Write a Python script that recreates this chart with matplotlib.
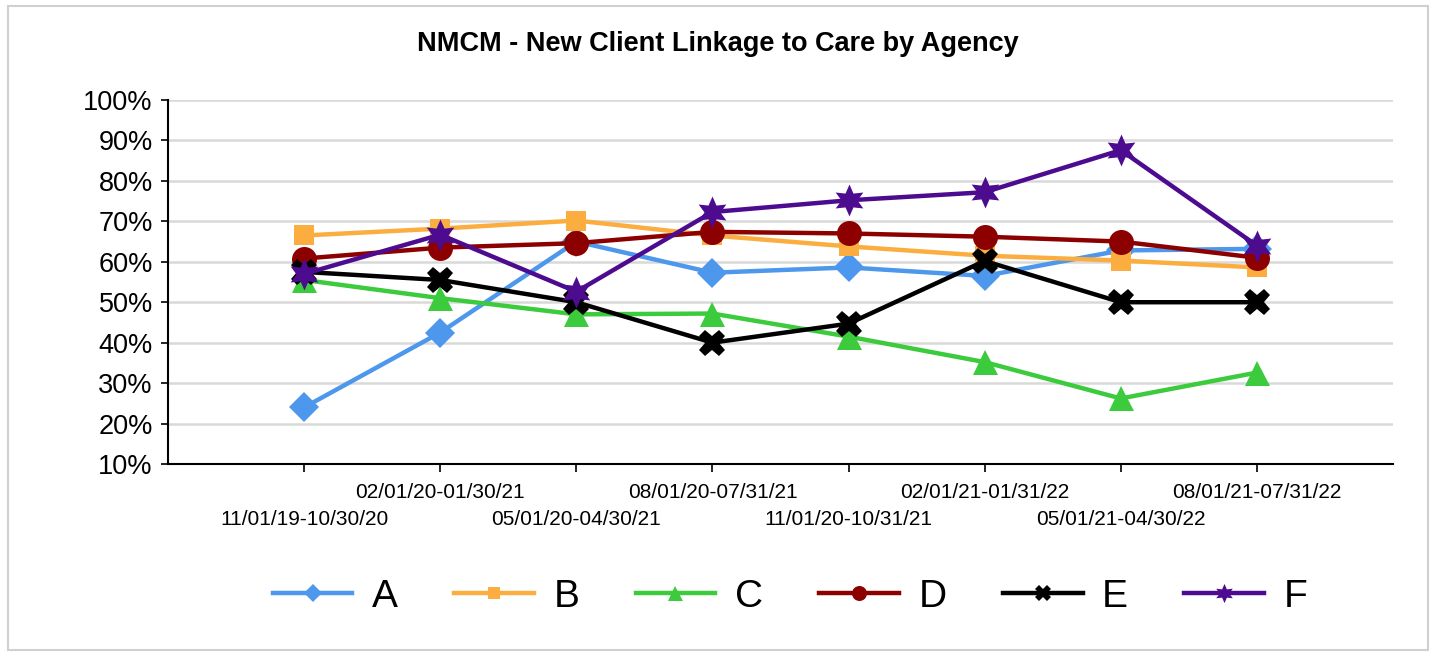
import matplotlib
matplotlib.use("Agg")
import matplotlib.pyplot as plt
from matplotlib.ticker import PercentFormatter, FixedLocator
from matplotlib.patches import Rectangle

periods = ["11/01/19-10/30/20", "02/01/20-01/30/21", "05/01/20-04/30/21",
           "08/01/20-07/31/21", "11/01/20-10/31/21", "02/01/21-01/31/22",
           "05/01/21-04/30/22", "08/01/21-07/31/22"]
agency_A = [24.0, 42.5, 65.0, 57.3, 58.6, 56.5, 62.8, 63.2]
agency_B = [66.5, 68.2, 70.2, 66.5, 63.8, 61.5, 60.3, 58.6]
agency_C = [55.5, 51.0, 47.0, 47.2, 41.5, 35.2, 26.2, 32.6]
agency_D = [60.8, 63.5, 64.6, 67.4, 67.0, 66.2, 65.0, 61.0]
agency_E = [57.5, 55.5, 50.0, 40.0, 44.7, 60.2, 50.0, 50.0]
agency_F = [57.0, 66.7, 52.6, 72.3, 75.2, 77.2, 87.6, 64.0]
series_names = ["A", "B", "C", "D", "E", "F"]

plt.rcParams['font.family'] = ['Liberation Sans', 'DejaVu Sans']

fig = plt.figure(figsize=(14.35, 6.56), dpi=100)
W, H = 1435, 656
ax = fig.add_axes([168 / W, 1 - 464 / H, (1393 - 168) / W, (464 - 100) / H])

fig.patches.append(Rectangle((8 / W, 6 / H), (1428 - 8) / W, (650 - 6) / H,
                             transform=fig.transFigure, fill=False,
                             edgecolor='#d0d0d0', linewidth=1.5))

styles = {
    "A": dict(color='#4D97EC', marker='D', ms=15),
    "B": dict(color='#FBAE3F', marker='s', ms=14),
    "C": dict(color='#3CCB3C', marker='^', ms=18),
    "D": dict(color='#8C0000', marker='o', ms=18),
    "E": dict(color='#000000', marker='X', ms=19),
    "F": dict(color='#4D0C8F', marker=(6, 1, 0), ms=23),
}
data = [agency_A, agency_B, agency_C, agency_D, agency_E, agency_F]
x = list(range(len(periods)))
for name, vals in zip(series_names, data):
    st = styles[name]
    ax.plot(x, vals, color=st['color'], marker=st['marker'], markersize=st['ms'],
            linewidth=3.2, label=name, markeredgewidth=0, zorder=3)

ax.set_xlim(-1, 8)
ax.set_ylim(10, 100)
ax.yaxis.set_major_locator(FixedLocator(list(range(10, 101, 10))))
ax.yaxis.set_major_formatter(PercentFormatter(decimals=0))
ax.grid(axis='y', color='#d9d9d9', linewidth=1.8, zorder=0)
ax.set_axisbelow(True)
for s in ['top', 'right']:
    ax.spines[s].set_visible(False)
ax.spines['left'].set_linewidth(1.5)
ax.spines['bottom'].set_linewidth(1.5)
ax.tick_params(axis='y', labelsize=19.5, length=5, width=1.2, pad=6)

ax.set_xticks(x[0::2])
ax.set_xticklabels(periods[0::2])
ax.set_xticks(x[1::2], minor=True)
ax.set_xticklabels(periods[1::2], minor=True)
ax.tick_params(axis='x', which='major', labelsize=15, length=6, width=1.2, pad=27)
ax.tick_params(axis='x', which='minor', labelsize=15, length=6, width=1.2, pad=8)

fig.text(0.5, 1 - 44 / H, "NMCM - New Client Linkage to Care by Agency",
         ha='center', va='center', fontsize=19.5, fontweight='bold')

leg = fig.legend(loc='center', ncol=6, frameon=False, fontsize=28,
                 handlelength=2.05, handletextpad=0.5, columnspacing=1.45,
                 markerscale=0.6, bbox_to_anchor=(790 / W, 1 - 597 / H))
for h in leg.get_lines():
    h.set_linewidth(3.2)

fig.savefig("out.png", dpi=100)
